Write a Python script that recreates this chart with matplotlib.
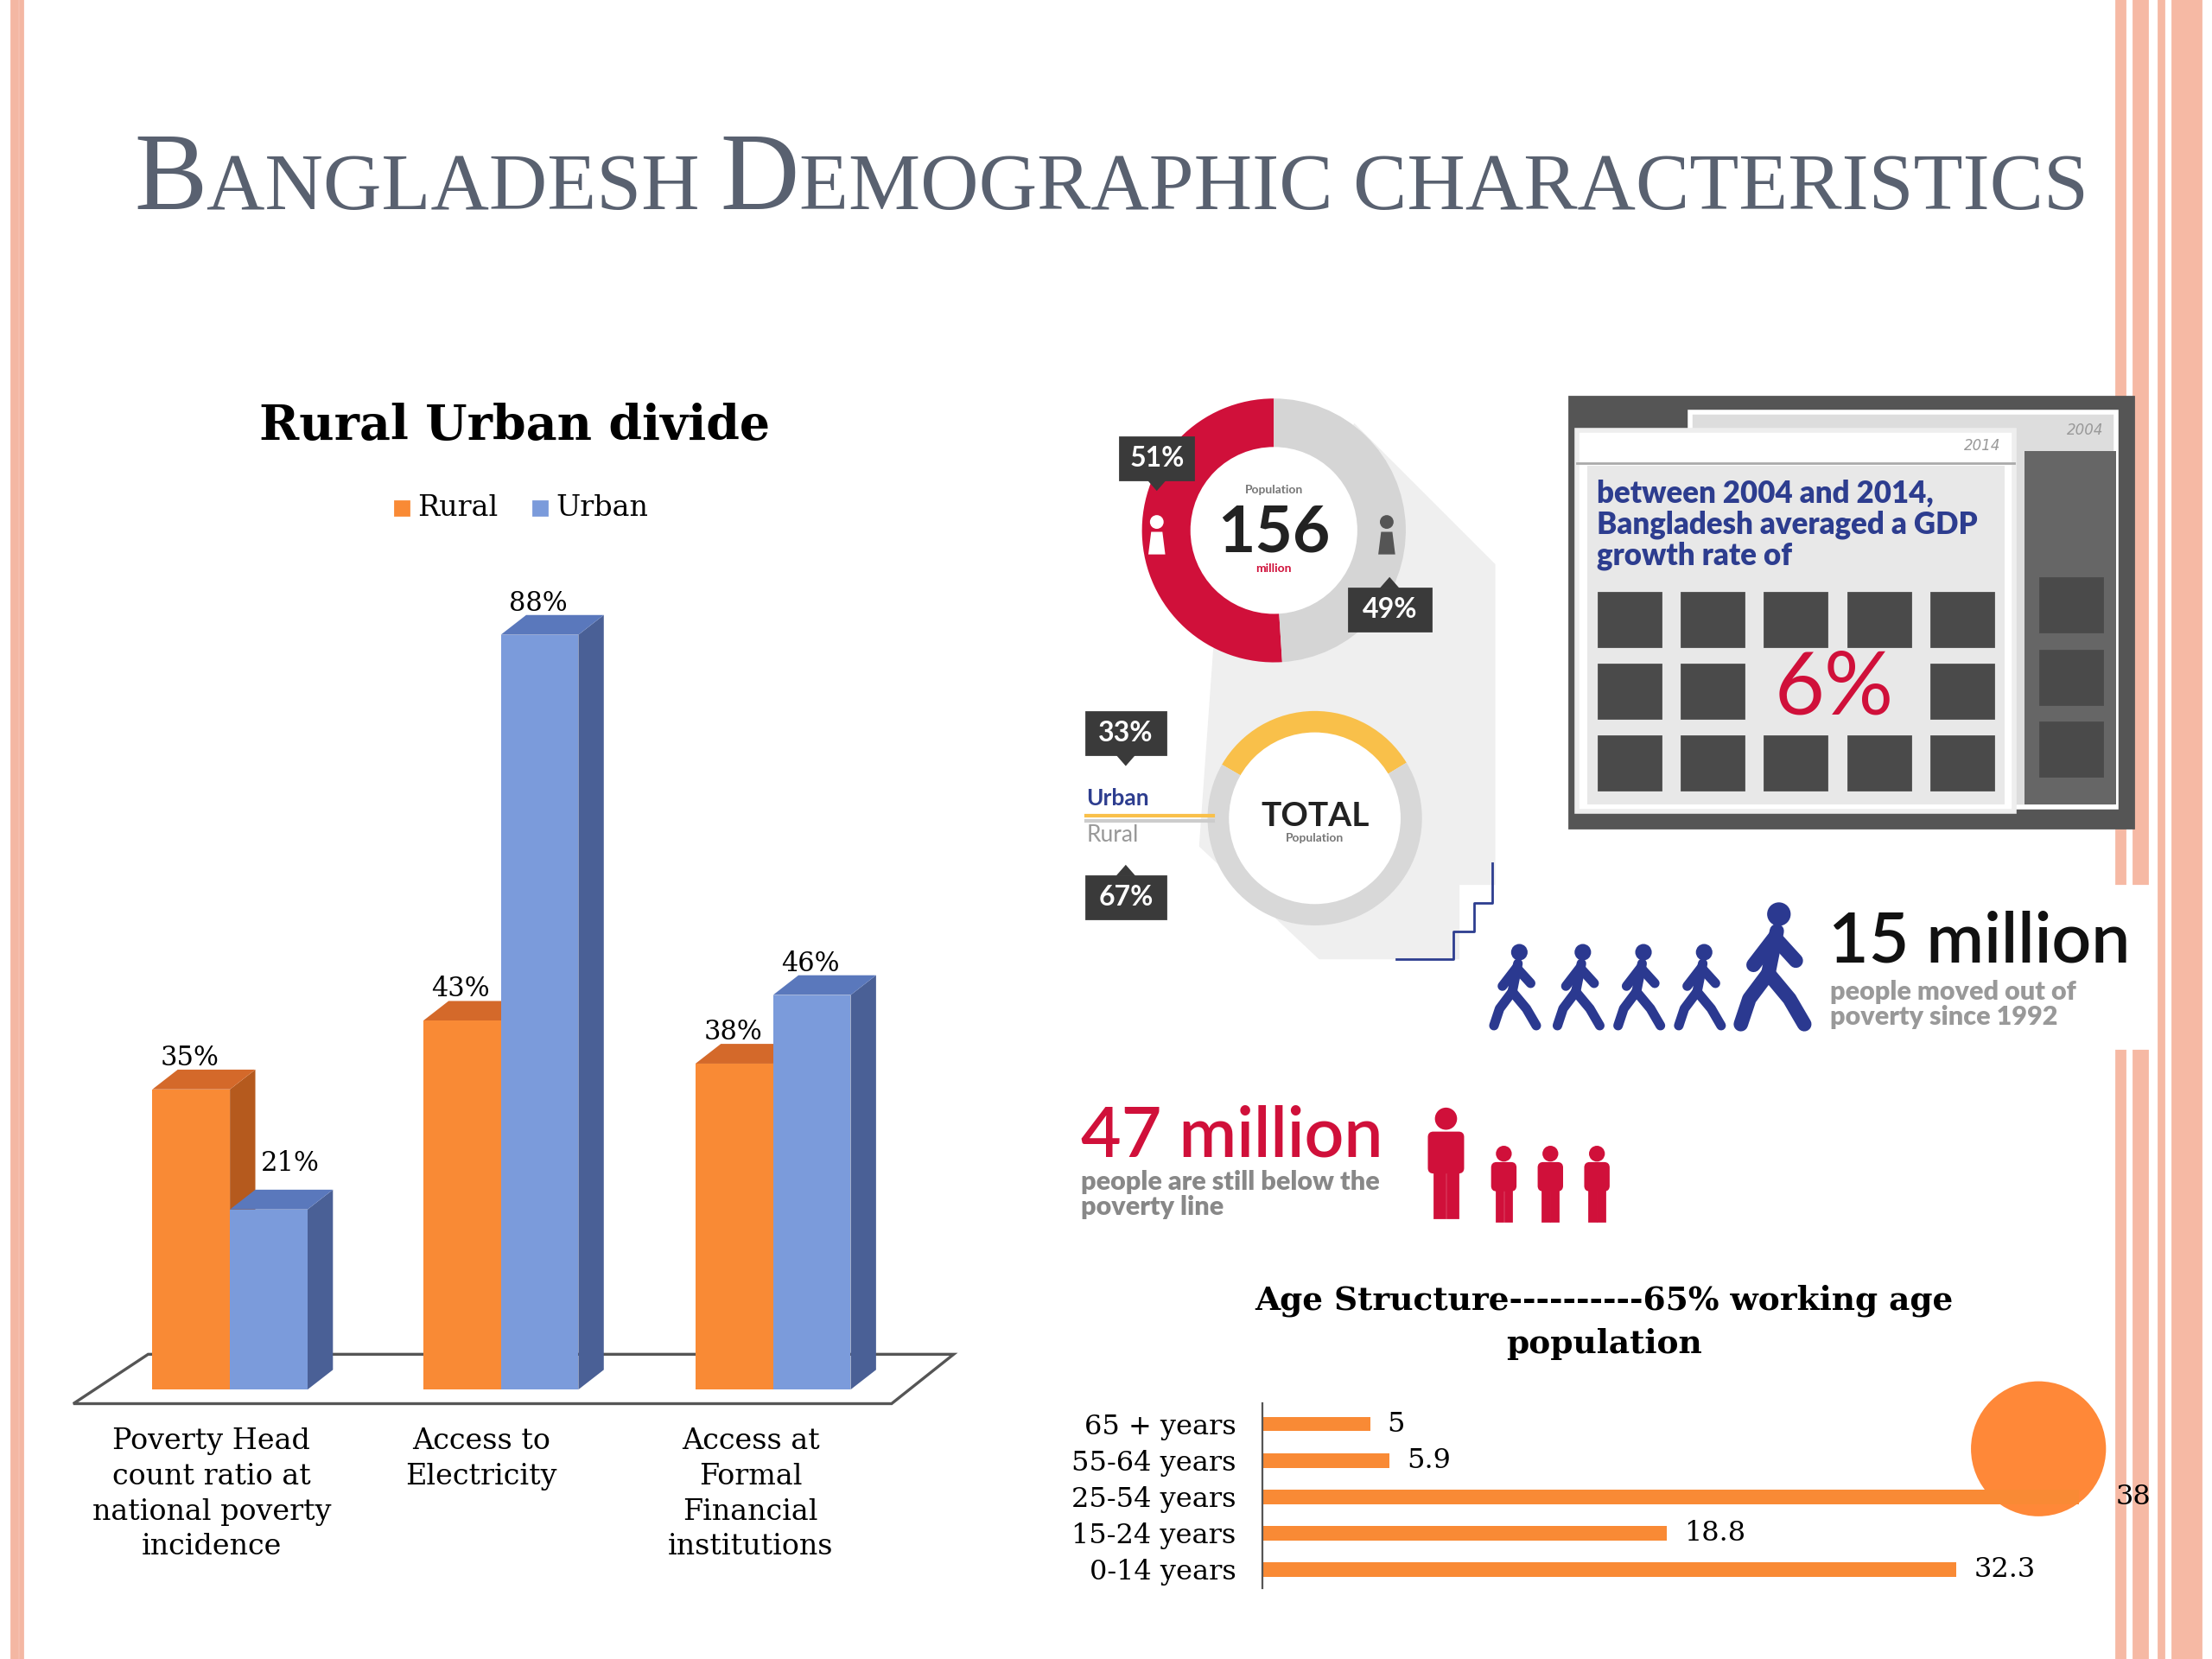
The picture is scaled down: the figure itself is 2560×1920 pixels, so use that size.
import matplotlib
matplotlib.use("Agg")
import matplotlib.pyplot as plt
from matplotlib.patches import Polygon, Rectangle, Circle, FancyBboxPatch
import numpy as np

# ---- data ----
bar_categories = ["Poverty Head\ncount ratio at\nnational poverty\nincidence", "Access to\nElectricity",
                  "Access at\nFormal\nFinancial\ninstitutions"]
rural = [35, 43, 38]
urban = [21, 88, 46]
pop_female_male = [51, 49]
urban_rural = [33, 67]
age_labels = ["65 + years", "55-64 years", "25-54 years", "15-24 years", "0-14 years"]
age_values = [5, 5.9, 38, 18.8, 32.3]

W, H = 1568, 1176
fig = plt.figure(figsize=(12.8, 9.6), dpi=200)
bg = fig.add_axes([0, 0, 1, 1])
bg.set_xlim(0, W); bg.set_ylim(H, 0); bg.axis("off")
SERIF = "Liberation Serif"
SERIF2 = "DejaVu Serif"
SANS = "Lato"
ORANGE, ORANGE_D, ORANGE_T = "#F98A35", "#B55A1E", "#D4692A"
BLUE, BLUE_D, BLUE_T = "#7B9BDB", "#4A6096", "#5A78BC"

# borders
bg.add_patch(Rectangle((8, 0), 4, H, color="#F4B7A3"))
bg.add_patch(Rectangle((14, 0), 2, H, color="#F4B7A3"))
for x0, w in [(1500, 6), (1512, 10), (1530, 4), (1540, 20)]:
    bg.add_patch(Rectangle((x0, 0), w, H, color="#F6B9A4"))

# title in small caps
fig.canvas.draw()
r = fig.canvas.get_renderer()
pieces = [("B", 42), ("ANGLADESH ", 31), ("D", 42), ("EMOGRAPHIC CHARACTERISTICS", 31)]
def draw_title(scale):
    x = 95
    objs = []
    for s, fs in pieces:
        t = bg.text(x, 148, s, fontsize=fs * scale, family=SERIF, color="#596170", va="baseline", ha="left")
        bb = t.get_window_extent(r)
        x += bb.width / fig.bbox.width * W
        objs.append(t)
    return x, objs
xe, objs = draw_title(1.0)
sc = (1480 - 95) / (xe - 95)
for o in objs: o.remove()
draw_title(sc)

# ---- 3D bar chart ----
PXU = 6.08
ax = fig.add_axes([50 / W, 1 - 985 / H, (680 - 50) / W, (985 - 420) / H])
ax.set_xlim(50, 680); ax.set_ylim(0, (985 - 420) / PXU); ax.axis("off")
dx, dy = 18, 14 / PXU
floor = Polygon([(52, -10 / PXU), (632, -10 / PXU), (676, 25 / PXU), (105, 25 / PXU)],
                closed=True, fc="white", ec="#555555", lw=1.2, clip_on=False, zorder=0)
ax.add_patch(floor)
centers = [163, 355, 548]
bw = 55
for i, c in enumerate(centers):
    for x0, v, fc, sd, tp in [(c - bw, rural[i], ORANGE, ORANGE_D, ORANGE_T), (c, urban[i], BLUE, BLUE_D, BLUE_T)]:
        ax.bar(x0, v, width=bw, align="edge", color=fc, zorder=2)
        ax.add_patch(Polygon([(x0 + bw, 0), (x0 + bw + dx, dy), (x0 + bw + dx, v + dy), (x0 + bw, v)],
                             closed=True, fc=sd, zorder=1, clip_on=False))
        ax.add_patch(Polygon([(x0, v), (x0 + dx, v + dy), (x0 + bw + dx, v + dy), (x0 + bw, v)],
                             closed=True, fc=tp, zorder=1, clip_on=False))
    ax.text(c - bw + 6, rural[i] + dy - 0.2, f"{rural[i]}%", family=SERIF2, fontsize=11, ha="left", va="bottom")
    if i == 0:
        ax.text(c + 22, urban[i] + dy + 1.5, f"{urban[i]}%", family=SERIF2, fontsize=11, ha="left", va="bottom")
    else:
        ax.text(c + 6, urban[i] + dy - 0.2, f"{urban[i]}%", family=SERIF2, fontsize=11, ha="left", va="bottom")
for lab, xc in zip(bar_categories, [150, 341, 532]):
    bg.text(xc, 1012, lab, family=SERIF2, fontsize=12, ha="center", va="top", linespacing=1.35)
bg.text(365, 302, "Rural Urban divide", family=SERIF2, fontsize=20, weight="bold", ha="center", va="center")
bg.add_patch(Rectangle((280, 355), 10, 10, color=ORANGE))
bg.text(296, 360, "Rural", family=SERIF2, fontsize=12, va="center")
bg.add_patch(Rectangle((378, 355), 10, 10, color=BLUE))
bg.text(394, 360, "Urban", family=SERIF2, fontsize=12, va="center")

# ---- donut area: shadow ----
bg.add_patch(Polygon([(960, 300), (1060, 400), (1060, 680), (935, 680), (850, 600), (860, 460)],
                     closed=True, fc="#EFEFEF", ec="none", zorder=0))
# donut 1
d1 = fig.add_axes([(903 - 110) / W, 1 - (376 + 110) / H, 220 / W, 220 / H])
d1.set_aspect("equal"); d1.axis("off")
d1.pie(pop_female_male, colors=["#D0103A", "#D5D5D5"], startangle=90, counterclock=True,
       wedgeprops=dict(width=0.4, edgecolor="none"), radius=0.85)
d1.add_patch(Circle((0, 0), 0.53, color="white"))
d1.set_xlim(-1, 1); d1.set_ylim(-1, 1)
d1.text(0, 0.24, "Population", ha="center", fontsize=5, color="#777777", weight="bold", family=SANS)
d1.text(0, -0.02, "156", ha="center", va="center", fontsize=27, weight="bold", color="#222222", family=SANS)
d1.text(0, -0.27, "million", ha="center", fontsize=5, color="#D0103A", weight="bold", family=SANS)

# donut 2
d2 = fig.add_axes([(932 - 80) / W, 1 - (580 + 80) / H, 160 / W, 160 / H])
d2.set_aspect("equal"); d2.axis("off")
d2.pie(urban_rural, colors=["#F9C04A", "#D8D8D8"], startangle=150, counterclock=False,
       wedgeprops=dict(width=0.2, edgecolor="none"), radius=0.95)
d2.add_patch(Circle((0, 0), 0.75, color="white"))
d2.set_xlim(-1, 1); d2.set_ylim(-1, 1)
d2.text(0, 0.02, "TOTAL", ha="center", va="center", fontsize=14, weight="bold", color="#222222", family=SANS)
d2.text(0, -0.18, "Population", ha="center", va="center", fontsize=5, weight="bold", color="#777777", family=SANS)

# overlay layer for callouts
ov = fig.add_axes([0, 0, 1, 1])
ov.set_xlim(0, W); ov.set_ylim(H, 0); ov.axis("off"); ov.patch.set_alpha(0)
for xc, col in [(820, "white"), (983, "#555555")]:
    ov.add_patch(Circle((xc, 370), 4, color=col, zorder=5))
    ov.add_patch(Polygon([(xc - 6, 393), (xc + 6, 393), (xc + 4, 377), (xc - 4, 377)], fc=col, zorder=5))

def callout(x, y, txt, down=True, w=52, h=30):
    ov.add_patch(Rectangle((x - w / 2, y - h / 2), w, h, color="#3A3A3A", zorder=6))
    s = 1 if down else -1
    ov.add_patch(Polygon([(x - 7, y + s * h / 2), (x + 7, y + s * h / 2), (x, y + s * (h / 2 + 8))],
                         fc="#3A3A3A", zorder=6))
    ov.text(x, y, txt, color="white", fontsize=11.5, weight="bold", ha="center", va="center", zorder=7,
            family=SANS)
callout(820, 325, "51%", True)
callout(985, 432, "49%", False, w=58)
callout(798, 520, "33%", True, w=56)
callout(798, 636, "67%", False, w=56)
ov.text(770, 566, "Urban", fontsize=9.5, color="#2D3D8F", va="center", family=SANS, weight="bold")
ov.text(770, 592, "Rural", fontsize=9.5, color="#999999", va="center", family=SANS)
ov.plot([770, 860], [578, 578], color="#F9C04A", lw=1.5)
ov.plot([770, 860], [582, 582], color="#CCCCCC", lw=1.5)
ov.plot([990, 1030, 1030, 1045, 1045, 1058, 1058], [680, 680, 660, 660, 640, 640, 612], color="#2D3D8F", lw=1)

# ---- GDP calendar ----
ov.add_patch(Rectangle((1112, 281), 400, 306, color="#555555", zorder=1))
ov.add_patch(Rectangle((1198, 292), 302, 280, fc="#DDDDDD", ec="white", lw=2, zorder=2))
ov.add_patch(Rectangle((1435, 320), 65, 250, fc="#666666", zorder=2))
ov.text(1478, 305, "2004", fontsize=6, color="#999999", style="italic", ha="center", va="center", zorder=3)
ov.add_patch(Rectangle((1118, 305), 310, 270, fc="white", ec="#EEEEEE", lw=2, zorder=3))
ov.add_patch(Rectangle((1125, 330), 296, 240, fc="#E8E8E8", zorder=3))
ov.plot([1118, 1428], [328, 328], color="#AAAAAA", lw=1, zorder=4)
ov.text(1405, 316, "2014", fontsize=6, color="#999999", style="italic", ha="center", va="center", zorder=4)
ov.text(1132, 372, "between 2004 and 2014,\nBangladesh averaged a GDP\ngrowth rate of", fontsize=12.5,
        weight="heavy", color="#2D3D8F", va="center", linespacing=1.1, zorder=5, family=SANS)
xs = [1133, 1192, 1251, 1310, 1369]
ys = [420, 471, 522]
for j, yy in enumerate(ys):
    for i, xx in enumerate(xs):
        if j == 1 and i in (2, 3):
            continue
        ov.add_patch(Rectangle((xx, yy), 44, 38, color="#4A4A4A", zorder=5))
    ov.add_patch(Rectangle((1446, yy - 10), 44, 38, color="#4A4A4A", zorder=3))
ov.text(1300, 489, "6%", fontsize=36, color="#D0103A", ha="center", va="center", zorder=6, family=SANS)

# ---- 15 million ----
ov.add_patch(Rectangle((1035, 628), 492, 115, color="white", zorder=1))
def walker(x, y, s, col="#2B3990"):
    ov.add_patch(Circle((x + 2 * s, y - 36 * s), 5 * s, color=col, zorder=5))
    kw = dict(color=col, lw=4 * s, solid_capstyle="round", zorder=5)
    ov.plot([x + 1 * s, x - 3 * s], [y - 28 * s, y - 8 * s], **kw)
    ov.plot([x - 3 * s, x - 12 * s, x - 16 * s], [y - 8 * s, y + 4 * s, y + 16 * s], **kw)
    ov.plot([x - 3 * s, x + 7 * s, x + 14 * s], [y - 8 * s, y + 4 * s, y + 16 * s], **kw)
    ov.plot([x - 10 * s, x, x + 10 * s], [y - 12 * s, y - 25 * s, y - 14 * s], **kw)
for xx in [1075, 1120, 1163, 1206]:
    walker(xx, 711, 1.0)
walker(1258, 702, 1.5)
ov.text(1296, 668, "15 million", fontsize=29, color="#111111", va="center", weight="semibold", zorder=6,
        family=SANS)
ov.text(1297, 712, "people moved out of\npoverty since 1992", fontsize=11, color="#999999",
        weight="heavy", va="center", linespacing=1.05, zorder=6, family=SANS)

# ---- 47 million ----
ov.text(766, 806, "47 million", fontsize=29, color="#D0103A", va="center", family=SANS, weight="semibold")
ov.text(766, 847, "people are still below the\npoverty line", fontsize=11, color="#888888",
        weight="heavy", va="center", linespacing=1.05, family=SANS)
def person(x, y, s):
    c = "#D0103A"
    ov.add_patch(Circle((x, y - 40 * s), 7 * s, color=c))
    ov.add_patch(FancyBboxPatch((x - 12 * s, y - 30 * s), 24 * s, 28 * s, boxstyle="round,pad=0,rounding_size=3",
                                color=c))
    ov.add_patch(Rectangle((x - 8 * s, y - 4 * s), 7 * s, 34 * s, color=c))
    ov.add_patch(Rectangle((x + 1 * s, y - 4 * s), 7 * s, 34 * s, color=c))
person(1025, 833, 1.0)
for xx in [1066, 1099, 1132]:
    person(xx, 845, 0.68)

# ---- age structure ----
ov.text(1137, 922, "Age Structure----------65% working age", family=SERIF2, fontsize=13.5,
        weight="bold", ha="center", va="center")
ov.text(1137, 953, "population", family=SERIF2, fontsize=13.5, weight="bold", ha="center", va="center")
PXA = (1387 - 895) / 32.3
axa = fig.add_axes([895 / W, 1 - 1126 / H, (1560 - 895) / W, (1126 - 995) / H])
axa.set_xlim(0, (1560 - 895) / PXA)
ypos = np.arange(len(age_values))
axa.barh(ypos, age_values, height=0.4, color=ORANGE)
axa.set_ylim(len(age_values) - 0.5 + 0.02, -0.5 - 0.06)
axa.set_yticks(ypos)
axa.set_yticklabels(age_labels, family=SERIF2, fontsize=11.5)
axa.tick_params(axis="y", length=0, pad=11)
axa.set_xticks([])
for s in ["top", "right", "bottom"]:
    axa.spines[s].set_visible(False)
axa.spines["left"].set_color("#555555")
axa.patch.set_alpha(0)
offs = {2: 1.7}
for i, v in enumerate(age_values):
    axa.text(v + offs.get(i, 0.8), i, f"{v:g}", family=SERIF2, fontsize=11.5, va="center")
ov.add_patch(Circle((1445, 1027), 47, color="#FF8838", zorder=10))
fig.savefig("out.png", dpi=200)
